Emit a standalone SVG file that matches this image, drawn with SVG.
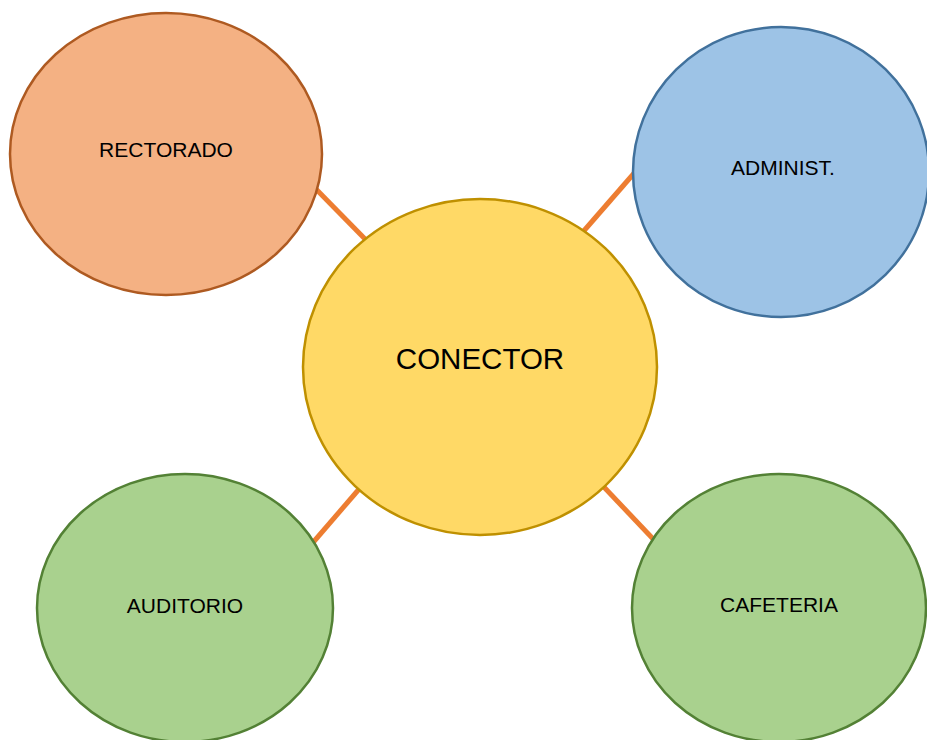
<svg xmlns="http://www.w3.org/2000/svg" width="927" height="740" viewBox="0 0 927 740">
<style>
.lbl{font-family:"Liberation Sans",Arial,sans-serif;font-size:21px;fill:#000;text-anchor:middle;dominant-baseline:central}
.big{font-size:29.5px}
.conn line{stroke:#ED7D31;stroke-width:5}
.o{fill:#F4B183;stroke:#AE5A21;stroke-width:2.5}
.b{fill:#9DC3E6;stroke:#41719C;stroke-width:2.5}
.y{fill:#FFD966;stroke:#BF9000;stroke-width:2.5}
.g{fill:#A9D18E;stroke:#538135;stroke-width:2.5}
</style>
<rect width="927" height="740" fill="#fff"/>
<g id="connectors" class="conn">
<line x1="312" y1="185" x2="366" y2="240"/>
<line x1="636" y1="171" x2="582" y2="233"/>
<line x1="310" y1="546" x2="360" y2="488"/>
<line x1="602" y1="485" x2="656" y2="542"/>
</g>
<g id="rectorado"><ellipse class="o" cx="166" cy="154" rx="156" ry="141"/><text class="lbl" x="166" y="149">RECTORADO</text></g>
<g id="administ"><ellipse class="b" cx="781" cy="172" rx="148" ry="145"/><text class="lbl" x="783" y="167">ADMINIST.</text></g>
<g id="auditorio"><ellipse class="g" cx="185" cy="608" rx="148" ry="134"/><text class="lbl" x="185" y="605">AUDITORIO</text></g>
<g id="cafeteria"><ellipse class="g" cx="779" cy="608" rx="147" ry="134"/><text class="lbl" x="779" y="604">CAFETERIA</text></g>
<g id="conector"><ellipse class="y" cx="480" cy="367" rx="177" ry="168"/><text class="lbl big" x="480" y="358">CONECTOR</text></g>
</svg>
